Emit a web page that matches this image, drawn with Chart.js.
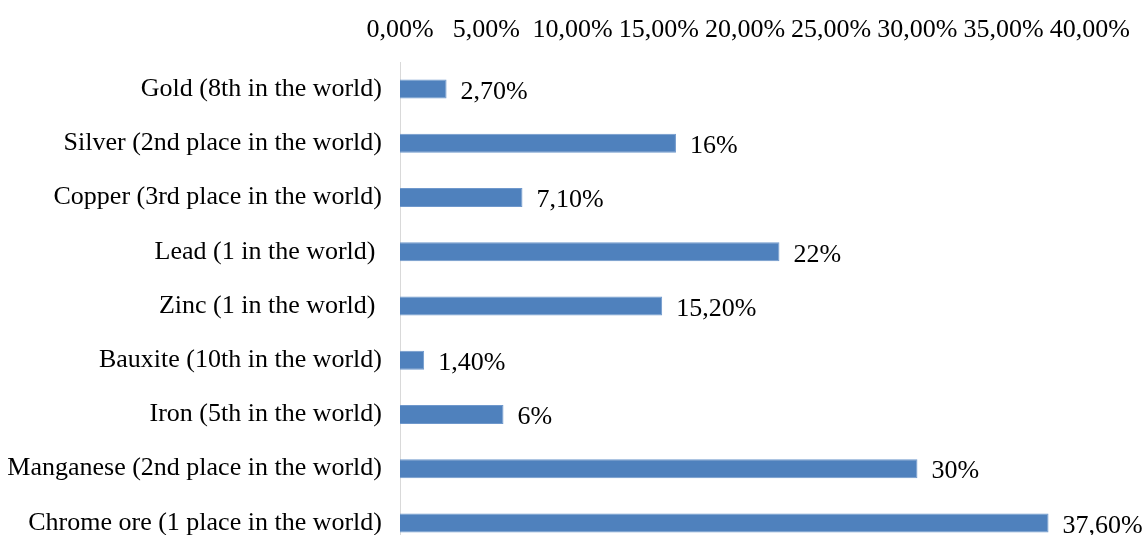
<!DOCTYPE html>
<html>
<head>
<meta charset="utf-8">
<script src="https://cdn.jsdelivr.net/npm/chart.js@4/dist/chart.umd.min.js"></script>
<style>
  html, body { margin: 0; padding: 0; background: #fff; overflow: hidden; }
  #chart { display: block; }
</style>
</head>
<body>
<canvas id="chart" width="1146" height="552"></canvas>
<script>
// minerals and their share of world reserves, %
const minerals = [
  "Gold (8th in the world)",
  "Silver (2nd place in the world)",
  "Copper (3rd place in the world)",
  "Lead (1 in the world) ",
  "Zinc (1 in the world) ",
  "Bauxite (10th in the world)",
  "Iron (5th in the world)",
  "Manganese (2nd place in the world)",
  "Chrome ore (1 place in the world)"
];
const shares = [2.7, 16, 7.1, 22, 15.2, 1.4, 6, 30, 37.6];

const axisMin = 0;
const axisMax = 40;
const axisStep = 5;

const serif = "'Liberation Serif', 'Times New Roman', serif";

function pct(v, fixed) {
  if (!fixed && Number.isInteger(v)) return v + "%";
  return v.toFixed(2).replace(".", ",") + "%";
}

// value labels to the right of each bar
const valueLabels = {
  id: "valueLabels",
  afterDatasetsDraw(chart) {
    const ctx = chart.ctx;
    const meta = chart.getDatasetMeta(0);
    ctx.save();
    ctx.font = "26px " + serif;
    ctx.fillStyle = "#000";
    ctx.textAlign = "left";
    ctx.textBaseline = "middle";
    meta.data.forEach((bar, i) => {
      ctx.fillText(pct(shares[i]), bar.x + 14, bar.y + 3);
    });
    ctx.restore();
  }
};

new Chart(document.getElementById("chart"), {
  type: "bar",
  data: {
    labels: minerals,
    datasets: [{
      data: shares,
      backgroundColor: "#4f81bd",
      borderColor: "#6f98cc",
      borderWidth: 1,
      categoryPercentage: 1,
      barPercentage: 0.35
    }]
  },
  options: {
    indexAxis: "y",
    responsive: false,
    maintainAspectRatio: false,
    animation: false,
    layout: { padding: { left: 0, right: 56, top: 0, bottom: 2 } },
    plugins: {
      legend: { display: false },
      tooltip: { enabled: false }
    },
    scales: {
      x: {
        position: "top",
        min: axisMin,
        max: axisMax,
        grid: { display: false, drawTicks: false },
        border: { display: false },
        afterFit(scale) { scale.height = 62; },
        ticks: {
          stepSize: axisStep,
          autoSkip: false,
          maxRotation: 0,
          padding: 16,
          color: "#000",
          font: { family: serif, size: 26 },
          callback: (v) => pct(v, true)
        }
      },
      y: {
        grid: { display: false, drawTicks: false },
        border: { display: true, color: "#d9d9d9", width: 1 },
        afterFit(scale) {
          scale.width = 400;
          // let the last category run off the bottom edge
          scale.paddingTop = 0;
          scale.paddingBottom = 0;
        },
        ticks: {
          autoSkip: false,
          padding: 18,
          color: "#000",
          font: { family: serif, size: 26 }
        }
      }
    }
  },
  plugins: [valueLabels]
});
</script>
</body>
</html>
